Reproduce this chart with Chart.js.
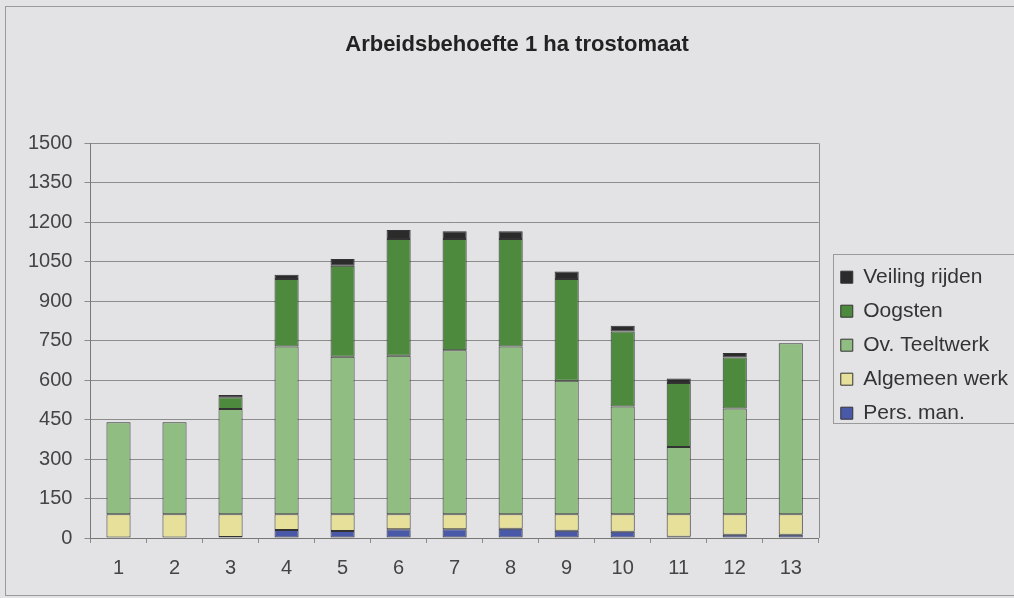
<!DOCTYPE html>
<html>
<head>
<meta charset="utf-8">
<script src="https://cdn.jsdelivr.net/npm/chart.js@4.4.1/dist/chart.umd.min.js"></script>
<style>
  html, body { margin: 0; padding: 0; background: #e3e3e5; overflow: hidden; }
  #frame { position: absolute; left: 5px; top: 6px; width: 1040px; height: 588px; border: 1px solid #9a9a9a; }
  #wrap { position: absolute; left: 0; top: 0; width: 1020px; height: 598px; }
</style>
</head>
<body>
<div id="frame"></div>
<div id="wrap"><canvas id="arbeid"></canvas></div>
<script>
// weken / perioden
var perioden = ['1', '2', '3', '4', '5', '6', '7', '8', '9', '10', '11', '12', '13'];
var persMan = [2, 2, 4, 30, 27, 33, 33, 35, 28, 24, 5, 12, 12];
var algemeenWerk = [88, 88, 86, 60, 63, 57, 57, 55, 62, 66, 85, 78, 78];
var teeltwerk = [350, 350, 400, 638, 599, 603, 624, 638, 508, 410, 256, 402, 650];
var oogsten = [0, 0, 45, 257, 346, 444, 423, 409, 387, 285, 243, 194, 0];
var veilingRijden = [0, 0, 9, 16, 26, 34, 29, 29, 28, 22, 17, 17, 0];
var yTicks = [0, 150, 300, 450, 600, 750, 900, 1050, 1200, 1350, 1500];

var font = 'Liberation Sans, Arial, sans-serif';
var gridColor = '#8c8c8c';

function serie(label, data, color) {
    return {
        label: label,
        data: data,
        backgroundColor: color,
        borderColor: '#333333',
        borderWidth: 1,
        borderSkipped: false,
        barPercentage: 0.43,
        categoryPercentage: 1
    };
}

// rechterrand van het plotvlak + kader om de legenda
var kaders = {
    id: 'kaders',
    afterDraw: function(chart) {
        var c = chart.ctx;
        var a = chart.chartArea;
        c.save();
        c.strokeStyle = '#8c8c8c';
        c.lineWidth = 1;
        c.beginPath();
        c.moveTo(Math.round(a.right) + 0.5, a.top);
        c.lineTo(Math.round(a.right) + 0.5, a.bottom);
        c.stroke();

        var lg = chart.legend;
        if (lg && lg.legendHitBoxes.length) {
            var boxes = lg.legendHitBoxes;
            var top = boxes[0].top - 13;
            var last = boxes[boxes.length - 1];
            var bottom = last.top + last.height + 8;
            c.strokeStyle = '#9a9a9a';
            c.strokeRect(Math.round(a.right + 14) + 0.5, Math.round(top) + 0.5, 400, Math.round(bottom - top));
        }
        c.restore();
    }
};

var ctx = document.getElementById('arbeid');
var arbeid = new Chart(ctx, {
    type: 'bar',
    data: {
        labels: perioden,
        datasets: [
            serie('Pers. man.', persMan, '#4a58a8'),
            serie('Algemeen werk', algemeenWerk, '#e6e09a'),
            serie('Ov. Teeltwerk', teeltwerk, '#8fbd82'),
            serie('Oogsten', oogsten, '#4e8a3d'),
            serie('Veiling rijden', veilingRijden, '#2b2b2b')
        ]
    },
    options: {
        responsive: true,
        maintainAspectRatio: false,
        animation: false,
        layout: { padding: { left: 16, right: 2, top: 0, bottom: 5 } },
        plugins: {
            title: {
                display: true,
                text: 'Arbeidsbehoefte 1 ha trostomaat',
                color: '#222222',
                font: { family: font, size: 22, weight: 'bold' },
                padding: { top: 32, bottom: 85 }
            },
            legend: {
                position: 'right',
                fullSize: false,
                reverse: true,
                labels: {
                    boxWidth: 12,
                    boxHeight: 12,
                    padding: 22,
                    color: '#333333',
                    font: { family: font, size: 21, lineHeight: '12px' },
                    generateLabels: function(chart) {
                        var items = Chart.defaults.plugins.legend.labels.generateLabels(chart);
                        items.forEach(function(it) { it.text = [it.text]; });
                        return items;
                    }
                }
            },
            tooltip: { enabled: false }
        },
        scales: {
            x: {
                stacked: true,
                grid: { drawOnChartArea: false, drawTicks: true, tickLength: 5, color: gridColor },
                border: { display: true, color: '#777777' },
                ticks: { color: '#444444', padding: 13, font: { family: font, size: 20 } }
            },
            y: {
                stacked: true,
                min: 0,
                max: 1500,
                afterBuildTicks: function(axis) {
                    axis.ticks = yTicks.map(function(v) { return { value: v }; });
                },
                grid: { color: gridColor, tickLength: 6 },
                border: { display: true, color: '#777777' },
                ticks: {
                    color: '#444444',
                    padding: 12,
                    font: { family: font, size: 20 },
                    callback: function(v) { return String(v); }
                }
            }
        }
    },
    plugins: [kaders]
});
</script>
</body>
</html>
